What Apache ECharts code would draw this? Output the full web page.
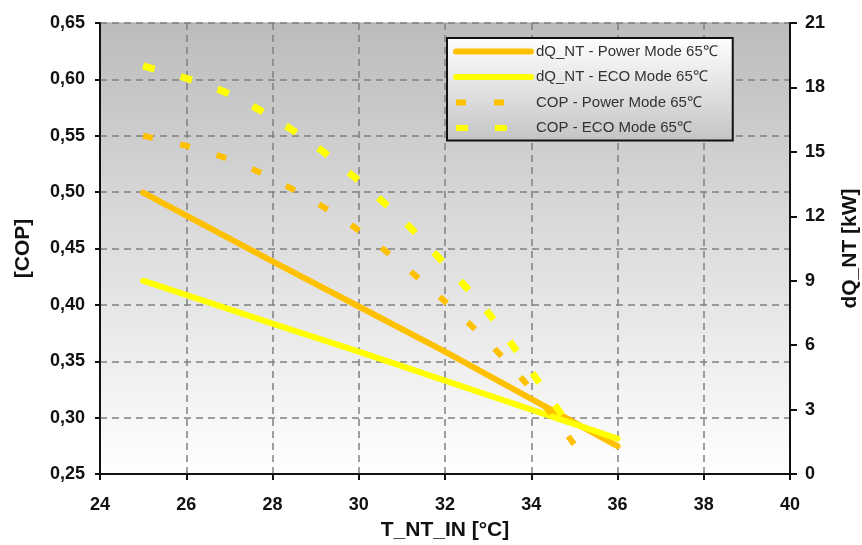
<!DOCTYPE html>
<html>
<head>
<meta charset="utf-8">
<script src="https://cdn.jsdelivr.net/npm/echarts@6/dist/echarts.min.js"></script>
<style>
html,body{margin:0;padding:0;background:#fff;}
#chart{width:862px;height:545px;}
</style>
</head>
<body>
<div id="chart"></div>
<script>
// ---- data ----
const seriesNames = ['dQ_NT - Power Mode 65\u2103', 'dQ_NT - ECO Mode 65\u2103', 'COP - Power Mode 65\u2103', 'COP - ECO Mode 65\u2103'];
const tempQ = [25, 28, 30, 32, 34, 36];
const qPower = [13.1, 9.9, 7.8, 5.7, 3.5, 1.3];
const qEco = [9.0, 7.0, 5.7, 4.35, 3.0, 1.65];
const tempCopPower = [25, 26, 27, 28, 29, 30, 31, 32, 33, 34, 35, 35.3];
const copPower = [0.550, 0.541, 0.529, 0.512, 0.491, 0.466, 0.436, 0.403, 0.367, 0.325, 0.276, 0.255];
const tempCopEco = [25, 26, 27, 28, 29, 30, 31, 32, 33, 34, 34.9];
const copEco = [0.612, 0.601, 0.587, 0.566, 0.541, 0.510, 0.476, 0.436, 0.393, 0.341, 0.292];
const xTicks = {min: 24, max: 40, interval: 2};
const copTicks = {min: 0.25, max: 0.65, interval: 0.05};
const kwTicks = {min: 0, max: 21, interval: 3};
const xName = 'T_NT_IN [\u00b0C]';
const copName = '[COP]';
const kwName = 'dQ_NT [kW]';

const pairs = (xs, ys) => xs.map((x, i) => [x, ys[i]]);

const ORANGE = '#FFC000';
const YELLOW = '#FFFF00';
const FONT = '"Liberation Sans Narrow", "Liberation Sans", Arial, sans-serif';
const labelStyle = {color: '#111', fontWeight: 'bold', fontSize: 18, fontFamily: FONT};
const nameStyle = {color: '#111', fontWeight: 'bold', fontSize: 21, fontFamily: '"Liberation Sans", Arial, sans-serif'};

const chart = echarts.init(document.getElementById('chart'), null, {renderer: 'canvas'});
chart.setOption({
  animation: false,
  backgroundColor: '#ffffff',
  grid: {
    left: 100, right: 72, top: 23, bottom: 71,
    outerBoundsMode: 'none',
    containLabel: false,
    show: true,
    borderColor: '#a0a0a0', borderWidth: 1,
    backgroundColor: new echarts.graphic.LinearGradient(0, 0, 0, 1, [
      {offset: 0, color: '#bcbcbc'},
      {offset: 1, color: '#ffffff'}
    ])
  },
  legend: {
    orient: 'vertical',
    left: 447, top: 38,
    padding: [6, 15, 5, 6],
    itemGap: 10.5,
    itemWidth: 75,
    itemHeight: 15,
    borderColor: '#111', borderWidth: 2,
    backgroundColor: new echarts.graphic.LinearGradient(0, 0, 0, 1, [
      {offset: 0, color: '#ffffff'},
      {offset: 1, color: '#c4c4c4'}
    ]),
    itemStyle: {opacity: 0},
    lineStyle: {width: 6},
    textStyle: {color: '#333', fontSize: 15, fontFamily: '"Liberation Sans", Arial, sans-serif'},
    data: seriesNames
  },
  xAxis: {
    type: 'value',
    min: xTicks.min, max: xTicks.max, interval: xTicks.interval,
    name: xName, nameLocation: 'middle', nameGap: 46, nameTextStyle: nameStyle,
    axisLine: {show: true, lineStyle: {color: '#111', width: 2}},
    axisTick: {show: true, length: 6, lineStyle: {color: '#111', width: 2}},
    axisLabel: Object.assign({margin: 22}, labelStyle),
    splitLine: {show: true, lineStyle: {color: '#808080', width: 1.5, type: [7, 5]}}
  },
  yAxis: [{
    type: 'value',
    min: copTicks.min, max: copTicks.max, interval: copTicks.interval,
    name: copName, nameLocation: 'middle', nameGap: 66, nameTextStyle: nameStyle,
    axisLine: {show: true, lineStyle: {color: '#111', width: 2}},
    axisTick: {show: true, length: 5, lineStyle: {color: '#111', width: 2}},
    axisLabel: Object.assign({margin: 15, formatter: v => v.toFixed(2).replace('.', ',')}, labelStyle),
    splitLine: {show: true, lineStyle: {color: '#808080', width: 1.5, type: [7, 5]}}
  }, {
    type: 'value',
    position: 'right',
    min: kwTicks.min, max: kwTicks.max, interval: kwTicks.interval,
    name: kwName, nameLocation: 'middle', nameGap: 50, nameTextStyle: nameStyle, nameRotate: 90,
    axisLine: {show: true, lineStyle: {color: '#111', width: 2}},
    axisTick: {show: true, length: 7, lineStyle: {color: '#111', width: 2}},
    axisLabel: Object.assign({margin: 15}, labelStyle),
    splitLine: {show: false}
  }],
  series: [{
    name: seriesNames[0], type: 'line', yAxisIndex: 1,
    data: pairs(tempQ, qPower), showSymbol: false, symbol: 'none',
    lineStyle: {color: ORANGE, width: 6, cap: 'round'}, itemStyle: {color: ORANGE}, z: 2
  }, {
    name: seriesNames[1], type: 'line', yAxisIndex: 1,
    data: pairs(tempQ, qEco), showSymbol: false, symbol: 'none',
    lineStyle: {color: YELLOW, width: 6, cap: 'round'}, itemStyle: {color: YELLOW}, z: 2
  }, {
    name: seriesNames[2], type: 'line', yAxisIndex: 0, smooth: 0.3,
    data: pairs(tempCopPower, copPower), showSymbol: false, symbol: 'none',
    lineStyle: {color: ORANGE, width: 6, type: [10, 28]}, itemStyle: {color: ORANGE}, z: 3
  }, {
    name: seriesNames[3], type: 'line', yAxisIndex: 0, smooth: 0.3,
    data: pairs(tempCopEco, copEco), showSymbol: false, symbol: 'none',
    lineStyle: {color: YELLOW, width: 7, type: [12, 27]}, itemStyle: {color: YELLOW}, z: 3
  }]
});
</script>
</body>
</html>
